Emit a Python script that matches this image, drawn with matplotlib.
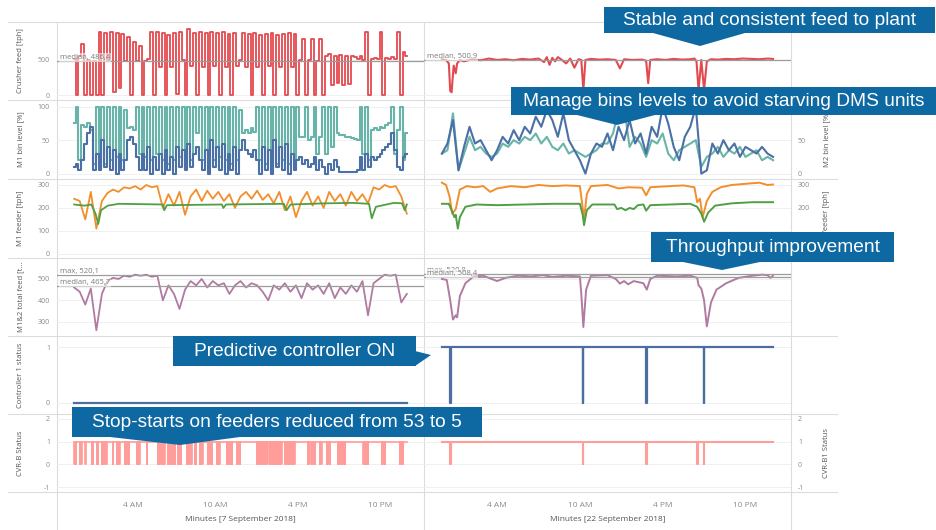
import numpy as np
import matplotlib.pyplot as plt
from matplotlib.patches import Rectangle, Polygon

plt.rcParams['font.family'] = ['Open Sans', 'DejaVu Sans']
plt.rcParams['axes.unicode_minus'] = False

W, H = 937, 530

# ---- data (hours of day) ----
crusher_left = [520, 0, 560, 730, 0, 500, 0, 480, 0,
                900, 0, 880, 500, 900, 40, 880, 100, 870,
                480, 820, 0, 760, 480, 700, 0, 480, 520, 900,
                0, 900, 400, 880, 0, 860, 400, 880, 20, 900,
                500, 0, 940, 420, 880, 0,
                900, 400, 880, 0, 900, 420, 880, 0, 900, 400, 870, 0, 880,
                420, 500,
                880, 400, 870, 0, 880, 400, 860, 0, 870, 410, 880, 0, 860, 400, 870, 0, 880, 400, 870, 0,
                500, 800, 0, 500, 800, 0, 480, 800, 0,
                560, 580, 150, 560, 170, 570, 150, 560, 160, 550, 540, 520, 560, 500,
                900, 0, 520, 530, 520, 900, 0, 530, 520, 540, 520, 900, 0, 620, 560]
crusher_right_t = [0.0, 0.3, 0.5, 0.6, 0.7, 0.85, 1.0, 1.1, 1.3, 1.6, 2.2, 2.8, 3.4, 4.0, 4.6, 5.2,
                   5.8, 6.4, 7.0, 7.4, 7.6, 7.8, 8.0, 8.2, 8.4, 8.7, 9.0, 9.3, 9.6, 9.9, 10.1, 10.25,
                   10.4, 10.8, 11.4, 12.0, 12.6, 12.9, 13.2, 13.8, 14.5, 14.8, 14.95, 15.1, 15.6, 16.2,
                   16.8, 17.4, 18.0, 18.3, 18.45, 18.6, 18.8, 19.0, 19.2, 19.5, 20.0, 20.6, 21.2, 21.8,
                   22.4, 23.0, 23.6, 24.0]
crusher_right = [510, 500, 450, 60, 40, 420, 310, 450, 500, 480, 510, 495, 520, 500, 510, 495,
                 515, 505, 520, 470, 540, 430, 530, 480, 540, 500, 450, 520, 390, 510, 500, 70,
                 500, 515, 505, 510, 500, 380, 510, 500, 505, 490, 170, 500, 510, 500,
                 515, 505, 510, 520, 480, 70, 500, 70, 480, 510, 505, 515, 510, 520,
                 515, 510, 520, 515]

teal_left = [75, 100, 20, 72, 70, 75, 65,
             15, 100, 20, 100, 15, 100, 20, 100, 25, 100, 20, 95,
             68, 70, 65, 100, 30,
             100, 25, 100, 20, 100, 30, 100,
             20, 100, 15, 100, 20, 100, 25, 100, 15, 100, 20, 100, 60, 100, 20, 100, 15, 100, 20,
             100, 25, 100, 20, 100, 15, 100, 20, 95, 60,
             65, 60, 68, 62, 100,
             20, 100, 15, 100, 20, 100, 15, 100, 20, 100, 15, 100, 20, 100, 55,
             55, 100, 50, 55, 100, 30, 55, 100, 30, 100, 40, 100, 60,
             58, 57, 55, 55, 53, 52, 50,
             100, 30, 100, 20, 65,
             68, 65, 70, 68, 72, 75,
             100, 30, 65, 100, 20, 60]
blue_left = [10, 15, 5, 20, 45, 60, 70,
             5, 30, 5, 50, 10, 40, 5, 35, 0, 30, 5, 20,
             50, 55, 45, 25, 5,
             30, 5, 40, 0, 25, 5, 30,
             0, 35, 5, 25, 0, 40, 10, 35, 5, 45, 10, 30, 40, 20, 5, 35, 0, 50, 10,
             40, 5, 45, 0, 30, 5, 40, 0, 35, 50,
             35, 30, 25, 35, 20,
             0, 40, 5, 35, 0, 50, 10, 40, 5, 45, 0, 30, 5, 20, 25,
             15, 20, 10, 15, 25, 5, 20, 10, 0, 15, 5, 20, 10,
             3, 2, 2, 3, 2, 3, 5,
             25, 5, 30, 10, 25,
             20, 25, 30, 35, 40, 45,
             60, 35, 10, 5, 25, 30]
blue_right = [30, 45, 80, 5, 40, 70, 45, 50, 35, 20,
              35, 55, 45, 65, 50, 70, 60, 85, 70, 95,
              80, 55, 90, 50, 35, 20, 0, 30, 45, 40,
              60, 35, 70, 50, 80, 45, 60, 30, 70, 55,
              100, 75, 40, 20, 55, 70, 100, 0, 5, 45,
              30, 50, 35, 45, 25, 40, 35, 30, 40, 30, 25]
teal_right = [30, 35, 90, 5, 30, 55, 35, 40, 30, 25,
              30, 45, 40, 50, 45, 55, 50, 60, 45, 55,
              40, 35, 45, 30, 35, 30, 25, 30, 35, 45,
              45, 60, 95, 100, 40, 55, 45, 25, 50, 45,
              60, 30, 20, 35, 40, 45, 50, 10, 25, 30,
              40, 25, 35, 30, 40, 25, 30, 35, 20, 25, 20]

orange_left = [240, 230, 150, 270, 110, 230, 265, 280, 270, 290,
               285, 295, 280, 300, 290, 295, 200, 260, 210, 270,
               170, 250, 280, 230, 275, 240, 270, 230, 260, 200,
               250, 270, 240, 275, 235, 260, 220, 270, 190, 250,
               160, 230, 270, 210, 250, 200, 270, 230, 260, 210,
               270, 230, 260, 220, 290, 280, 300, 290, 295, 250, 175]
green_left_t = [-0.25, 0.5, 1.0, 1.3, 1.5, 1.7, 2.2, 3.0, 6.2, 6.3, 6.5, 10.5, 10.6, 10.8,
                15.0, 15.2, 15.5, 18.0, 20.0, 21.2, 21.4, 21.7, 23.0, 23.6, 23.8, 23.95]
green_left = [215, 210, 215, 175, 130, 190, 210, 218, 215, 190, 212, 215, 200, 215,
              218, 190, 215, 220, 222, 218, 155, 205, 222, 220, 190, 215]
orange_right_t = [0.0, 0.3, 0.55, 0.75, 1.0, 1.3, 1.8, 2.4, 3.0, 3.5, 4.0, 5.0, 6.0, 7.0, 8.0,
                  9.0, 10.0, 10.2, 10.3, 10.5, 10.8, 12.0, 12.8, 13.5, 14.5, 14.8, 15.1, 16.5,
                  17.5, 18.3, 18.5, 18.7, 18.9, 19.2, 19.6, 20.2, 21.0, 22.0, 23.0, 23.6, 24.0]
orange_right = [310, 300, 250, 175, 195, 280, 295, 290, 295, 270, 285, 295, 290, 300, 295,
                298, 295, 200, 150, 260, 295, 300, 285, 290, 288, 255, 290, 295,
                298, 290, 225, 240, 160, 230, 270, 290, 300, 305, 310, 300, 302]
green_right_t = [0.0, 0.5, 0.7, 0.9, 1.0, 1.15, 1.3, 1.7, 2.5, 4.0, 6.0, 8.0, 10.0, 10.2, 10.3,
                 10.5, 10.9, 12.5, 12.7, 13.0, 13.3, 13.6, 13.9, 14.2, 14.6, 14.8, 15.1, 16.5,
                 18.0, 18.5, 18.8, 19.0, 19.3, 19.8, 21.0, 22.5, 24.0]
green_right = [218, 218, 190, 160, 170, 110, 160, 205, 215, 212, 215, 218, 218, 170, 125,
               190, 215, 215, 195, 200, 190, 200, 195, 212, 215, 188, 212, 215,
               218, 205, 175, 140, 180, 210, 220, 225, 225]

purple_left = [460, 440, 380, 455, 260, 430, 490, 505, 500, 515,
               510, 520, 515, 520, 510, 515, 400, 470, 430, 360,
               450, 490, 470, 500, 460, 490, 470, 480, 430, 470,
               490, 460, 480, 470, 440, 400, 470, 450, 480, 440,
               470, 410, 480, 450, 470, 430, 480, 410, 460, 430,
               470, 440, 490, 330, 480, 500, 520, 515, 520, 390, 430]
purple_right_t = [0.0, 0.35, 0.6, 0.8, 1.0, 1.1, 1.3, 1.7, 2.3, 3.0, 3.6, 4.0, 4.6, 5.5, 6.5,
                  7.3, 8.0, 9.0, 10.0, 10.1, 10.25, 10.45, 10.8, 12.0, 12.6, 12.9, 13.2, 13.5,
                  13.9, 14.6, 14.85, 15.1, 15.6, 17.0, 18.0, 18.5, 18.6, 18.8, 19.0, 19.2, 19.5,
                  19.9, 20.6, 21.5, 22.5, 23.2, 23.6, 23.8, 24.0]
purple_right = [500, 495, 400, 310, 330, 320, 420, 480, 512, 515, 500, 490, 505, 515, 512,
                518, 510, 515, 512, 430, 275, 450, 515, 518, 500, 478, 490, 475,
                490, 480, 450, 500, 515, 512, 515, 505, 470, 455, 400, 278, 390,
                450, 480, 505, 515, 520, 518, 505, 515]

ctrl_dips_right = [0.6, 10.2, 14.8, 19.0]
cvr_dips_left = [-0.23, -0.13, 0.14, 0.26, 0.57, 1.01, 1.1, 1.38, 1.48, 1.74, 1.84, 1.94, 2.10, 2.54,
                 2.83, 2.93, 3.03, 3.42, 3.52, 3.62, 3.72, 4.29, 4.4, 4.5, 5.02,
                 5.82, 5.92, 6.02, 6.12, 6.22, 6.32, 6.55, 6.65, 6.75, 6.85, 6.95, 7.05,
                 7.28, 7.38, 7.5, 7.94, 8.04, 8.14, 8.26, 8.52, 8.6, 8.88, 8.98, 9.08,
                 9.47, 9.57, 9.67, 9.76, 10.12, 10.22, 10.32, 10.85, 10.95, 11.05, 11.15, 11.2,
                 11.58, 11.68, 11.78, 13.04, 13.14, 13.24, 13.4, 13.5, 13.6, 13.7, 13.8,
                 13.99, 14.09, 14.2, 14.35, 14.45, 14.55, 14.72, 14.82, 15.08, 15.18, 15.28,
                 15.45, 15.55, 15.65, 15.75, 15.8, 16.76, 16.86, 17.05, 17.15, 17.25,
                 17.63, 17.72, 18.14, 18.24, 18.34, 18.94, 19.04, 19.14, 19.24, 19.34, 19.44,
                 20.77, 20.87, 20.97, 21.1, 22.15, 22.25, 22.35, 23.46, 23.56, 23.66]
cvr_dips_right = [0.6, 10.2, 14.8, 18.5, 19.0]

left_labels = ['Crusher feed [tph]', 'M1 bin level [%]', 'M1 feeder [tph]',
               'M1&2 total feed [t...', 'Controller 1 status', 'CVR-B Status']
right_labels = {1: 'M2 bin level [%]', 2: 'M2 feeder [tph]', 5: 'CVR-B1 Status'}
# right-hand tick labels that sit under the callout boxes are left blank
right_ticklabels = {1: ['0', '50', ''], 2: ['', '', '200', '300'], 5: ['-1', '0', '1', '2']}
yticks = [[0, 500], [0, 50, 100], [0, 100, 200, 300], [300, 400, 500], [0, 1], [-1, 0, 1, 2]]
ylims = [(-70, 1040), (-8, 110), (-18, 326), (233, 598), (-0.2, 1.2), (-1.2, 2.2)]
hour_ticks = [4, 10, 16, 22]
hour_labels = ['4 AM', '10 AM', '4 PM', '10 PM']

RED, TEAL, BLUE = '#e34a4f', '#69b4a8', '#4a70a6'
ORANGE, GREEN, PURPLE = '#f28e2b', '#4f9f45', '#b07aa1'
CTRL, PINK = '#4a6fa0', '#ff9d9a'
BOX = '#0e69a2'

ROWS = [22, 100, 179, 258, 336, 414, 492]
COLS = [(57, 424), (424, 791)]
XLIMS = [(-1.5, 25.2), (-1.3, 25.3)]


def left_t(v):
    return np.linspace(-0.25, 23.95, len(v))


def right_t(v):
    return np.linspace(0, 24, len(v))


def status_line(dips, start, end, w=0.04):
    xs, ys = [start], [1]
    for d in dips:
        xs += [d, d, d + w, d + w]
        ys += [1, 0, 0, 1]
    xs.append(end)
    ys.append(1)
    return xs, ys


fig = plt.figure(figsize=(W / 100, H / 100), dpi=100)

bg = fig.add_axes([0, 0, 1, 1], zorder=0)
bg.set_xlim(0, W)
bg.set_ylim(H, 0)
bg.axis('off')
for y in ROWS:
    bg.plot([8, 837], [y, y], color='#dcdcdc', lw=0.8)
for x in [57, 424, 791]:
    bg.plot([x, x], [22, 530], color='#dcdcdc', lw=0.8)

axes = []
for r in range(6):
    row = []
    for c in range(2):
        x0, x1 = COLS[c]
        y0, y1 = ROWS[r], ROWS[r + 1]
        ax = fig.add_axes([x0 / W, 1 - y1 / H, (x1 - x0) / W, (y1 - y0) / H], zorder=1)
        ax.set_facecolor('none')
        for s in ax.spines.values():
            s.set_visible(False)
        ax.set_xlim(XLIMS[c])
        ax.set_ylim(ylims[r])
        ax.set_yticks(yticks[r])
        ax.set_xticks(hour_ticks)
        ax.grid(axis='y', color='#eeeeee', lw=0.6)
        ax.set_axisbelow(True)
        ax.tick_params(length=0, labelsize=5, labelcolor='#8a8a8a', pad=5)
        if r < 5:
            ax.tick_params(labelbottom=False)
        else:
            ax.set_xticklabels(hour_labels, fontsize=6)
            ax.tick_params(axis='x', pad=7)
        if c == 0:
            ax.set_ylabel(left_labels[r], fontsize=5.5, color='#555555')
            ax.yaxis.set_label_coords(-0.09, 0.5)
        else:
            ax.tick_params(labelleft=False, labelright=(r in right_labels))
            if r in right_labels:
                ax.set_yticklabels(right_ticklabels[r])
                ax.yaxis.set_label_position('right')
                ax.set_ylabel(right_labels[r], fontsize=5.5, color='#555555')
                ax.yaxis.set_label_coords(1.087, 0.5)
        row.append(ax)
    axes.append(row)


def ref_line(ax, val, label):
    ax.axhline(val, color='#9c9c9c', lw=0.9, zorder=3)
    ax.text(0.007, val, label, transform=ax.get_yaxis_transform(), fontsize=5.5,
            color='#7a7a7a', va='bottom', ha='left', zorder=4,
            bbox=dict(facecolor='white', alpha=0.55, edgecolor='none', boxstyle='square,pad=0.1'))


# row 1: crusher feed
axes[0][0].plot(left_t(crusher_left), crusher_left, color=RED, lw=1.3, drawstyle='steps-mid')
axes[0][1].plot(crusher_right_t, crusher_right, color=RED, lw=1.5)
ref_line(axes[0][0], 486.4, 'median, 486,4')
ref_line(axes[0][1], 500.9, 'median, 500.9')

# row 2: bin levels
axes[1][0].plot(left_t(teal_left), teal_left, color=TEAL, lw=1.5, drawstyle='steps-mid')
axes[1][0].plot(left_t(blue_left), blue_left, color=BLUE, lw=1.5, drawstyle='steps-mid')
axes[1][1].plot(right_t(teal_right), teal_right, color=TEAL, lw=1.5)
axes[1][1].plot(right_t(blue_right), blue_right, color=BLUE, lw=1.5)

# row 3: feeders
axes[2][0].plot(left_t(orange_left), orange_left, color=ORANGE, lw=1.3)
axes[2][0].plot(green_left_t, green_left, color=GREEN, lw=1.3)
axes[2][1].plot(orange_right_t, orange_right, color=ORANGE, lw=1.4)
axes[2][1].plot(green_right_t, green_right, color=GREEN, lw=1.4)

# row 4: total feed
axes[3][0].plot(left_t(purple_left), purple_left, color=PURPLE, lw=1.3)
axes[3][1].plot(purple_right_t, purple_right, color=PURPLE, lw=1.4)
ref_line(axes[3][0], 520.1, 'max, 520,1')
ref_line(axes[3][0], 465.7, 'median, 465,7')
ref_line(axes[3][1], 520.8, 'max, 520,8')
ref_line(axes[3][1], 508.4, 'median, 508,4')

# row 5: controller status
axes[4][0].plot([-0.25, 23.95], [0, 0], color=CTRL, lw=1.6)
cx, cy = status_line(ctrl_dips_right, 0, 24, 0.03)
axes[4][1].plot(cx, cy, color=CTRL, lw=1.6)

# row 6: CVR status
vx, vy = status_line(cvr_dips_left, -0.25, 23.95, 0.03)
axes[5][0].plot(vx, vy, color=PINK, lw=1.2)
vx, vy = status_line(cvr_dips_right, 0, 24, 0.03)
axes[5][1].plot(vx, vy, color=PINK, lw=1.5)

axes[5][0].set_xlabel('Minutes [7 September 2018]', fontsize=6, color='#555555', labelpad=5)
axes[5][1].set_xlabel('Minutes [22 September 2018]', fontsize=6, color='#555555', labelpad=5)

# callouts
ov = fig.add_axes([0, 0, 1, 1], zorder=10)
ov.set_xlim(0, W)
ov.set_ylim(H, 0)
ov.axis('off')
callouts = [
    ('Stable and consistent feed to plant', (604, 7, 935, 33), [(653, 33), (745, 33), (700, 46)]),
    ('Manage bins levels to avoid starving DMS units', (511, 87, 937, 115), [(577, 115), (655, 115), (617, 125)]),
    ('Throughput improvement', (651, 232, 894, 262), [(683, 262), (760, 262), (722, 270)]),
    ('Predictive controller ON', (173, 336, 416, 366), [(415, 351), (415, 366), (431, 355)]),
    ('Stop-starts on feeders reduced from 53 to 5', (72, 407, 482, 437), [(110, 437), (240, 437), (180, 445)]),
]
for txt, (x0, y0, x1, y1), tri in callouts:
    ov.add_patch(Rectangle((x0, y0), x1 - x0, y1 - y0, facecolor=BOX, edgecolor='none'))
    ov.add_patch(Polygon(tri, closed=True, facecolor=BOX, edgecolor='none'))
    ov.text((x0 + x1) / 2, (y0 + y1) / 2 + 0.5, txt, color='white', fontsize=13.8,
            family='Liberation Sans', ha='center', va='center')

fig.savefig('out.png', dpi=100)
